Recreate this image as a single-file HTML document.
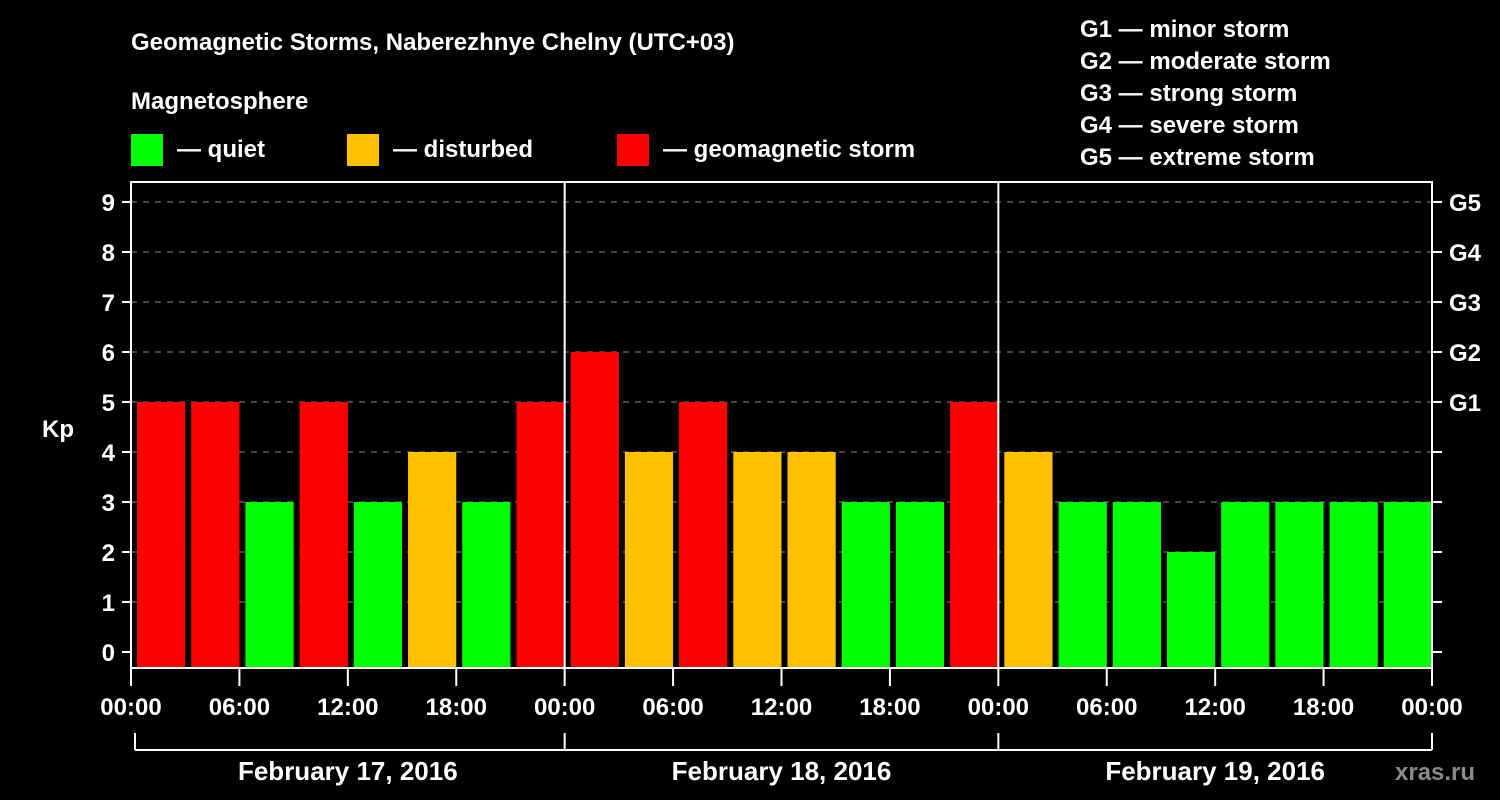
<!DOCTYPE html>
<html><head><meta charset="utf-8"><style>
body{margin:0;background:#000;width:1500px;height:800px;overflow:hidden}
svg{display:block}
text{font-family:"Liberation Sans",Arial,sans-serif;font-weight:bold;fill:#fff}
</style></head><body>
<svg id="c" width="1500" height="800">
<text x="131" y="50" font-size="24">Geomagnetic Storms, Naberezhnye Chelny (UTC+03)</text>
<text x="131" y="109" font-size="24">Magnetosphere</text>
<g>
<rect x="131" y="134" width="32" height="32" fill="#00ff00"/>
<text x="177" y="157" font-size="24">— quiet</text>
<rect x="347" y="134" width="32" height="32" fill="#ffc000"/>
<text x="393" y="157" font-size="24">— disturbed</text>
<rect x="617" y="134" width="32" height="32" fill="#ff0000"/>
<text x="663" y="157" font-size="24">— geomagnetic storm</text>
</g>
<g font-size="24">
<text x="1080" y="37">G1 — minor storm</text>
<text x="1080" y="69">G2 — moderate storm</text>
<text x="1080" y="101">G3 — strong storm</text>
<text x="1080" y="133">G4 — severe storm</text>
<text x="1080" y="165">G5 — extreme storm</text>
</g>
<text x="42" y="437" font-size="24">Kp</text>
<text x="1395" y="780" font-size="24" fill="#888" style="fill:#8a8a8a">xras.ru</text>
<g id="plot"></g>
</svg>
<script>
const values=[5,5,3,5,3,4,3,5, 6,4,5,4,4,3,3,5, 4,3,3,2,3,3,3,3];
const dayLabels=["February 17, 2016","February 18, 2016","February 19, 2016"];
const hourLabels=["00:00","06:00","12:00","18:00"];
const yTicks=[0,1,2,3,4,5,6,7,8,9];
const gLabels=["G1","G2","G3","G4","G5"];
const X0=131,X1=1432,Y0=182,Y1=668;
const slot=(X1-X0)/values.length;
const y=v=>652-v*50;
const x=i=>X0+i*slot;
const ns="http://www.w3.org/2000/svg";
const g=document.getElementById('plot');
function mk(t,a,p){const e=document.createElementNS(ns,t);for(const k in a)e.setAttribute(k,a[k]);(p||g).appendChild(e);return e;}
yTicks.forEach(v=>{
 if(v>0){const l=mk('line',{x1:X0,x2:X1,y1:y(v),y2:y(v),stroke:'#888','stroke-dasharray':'6,6','stroke-width':1});
 
 }
 mk('line',{x1:X0-9,x2:X0,y1:y(v),y2:y(v),stroke:'#fff','stroke-width':2});
 mk('line',{x1:X1,x2:X1+10,y1:y(v),y2:y(v),stroke:'#fff','stroke-width':2});
 const t=mk('text',{x:X0-16,y:y(v)+9,'font-size':24,'text-anchor':'end'});t.textContent=v;
 
 
});
gLabels.forEach((s,i)=>{const t=mk('text',{x:X1+17,y:y(5+i)+9,'font-size':24});t.textContent=s;
 
 });
values.forEach((v,i)=>{
 const c=v>=5?'#ff0000':v==4?'#ffc000':'#00ff00';
 const r=mk('rect',{x:x(i)+6,y:y(v),width:slot-6,height:Y1-y(v),fill:c});
 
 
});
mk('rect',{x:X0,y:Y0,width:X1-X0,height:Y1-Y0,fill:'none',stroke:'#fff','stroke-width':2});
for(let d=1;d<3;d++)mk('line',{x1:x(d*8),x2:x(d*8),y1:Y0,y2:Y1,stroke:'#fff','stroke-width':2});
for(let k=0;k<=12;k++){
 const xx=x(k*2);
 mk('line',{x1:xx,x2:xx,y1:Y1,y2:Y1+18,stroke:'#fff','stroke-width':2});
 const t=mk('text',{x:xx,y:715,'font-size':24,'text-anchor':'middle'});t.textContent=hourLabels[k%4];
 
 
}
mk('line',{x1:x(0)+4,x2:x(24),y1:750,y2:750,stroke:'#fff','stroke-width':2});
for(let d=0;d<=3;d++){const xx=d==0?x(0)+4:x(d*8);mk('line',{x1:xx,x2:xx,y1:733,y2:750,stroke:'#fff','stroke-width':2});}
dayLabels.forEach((s,d)=>{const t=mk('text',{x:x(d*8+4),y:780,'font-size':26,'text-anchor':'middle'});t.textContent=s;
 
 });
</script>
</body></html>
